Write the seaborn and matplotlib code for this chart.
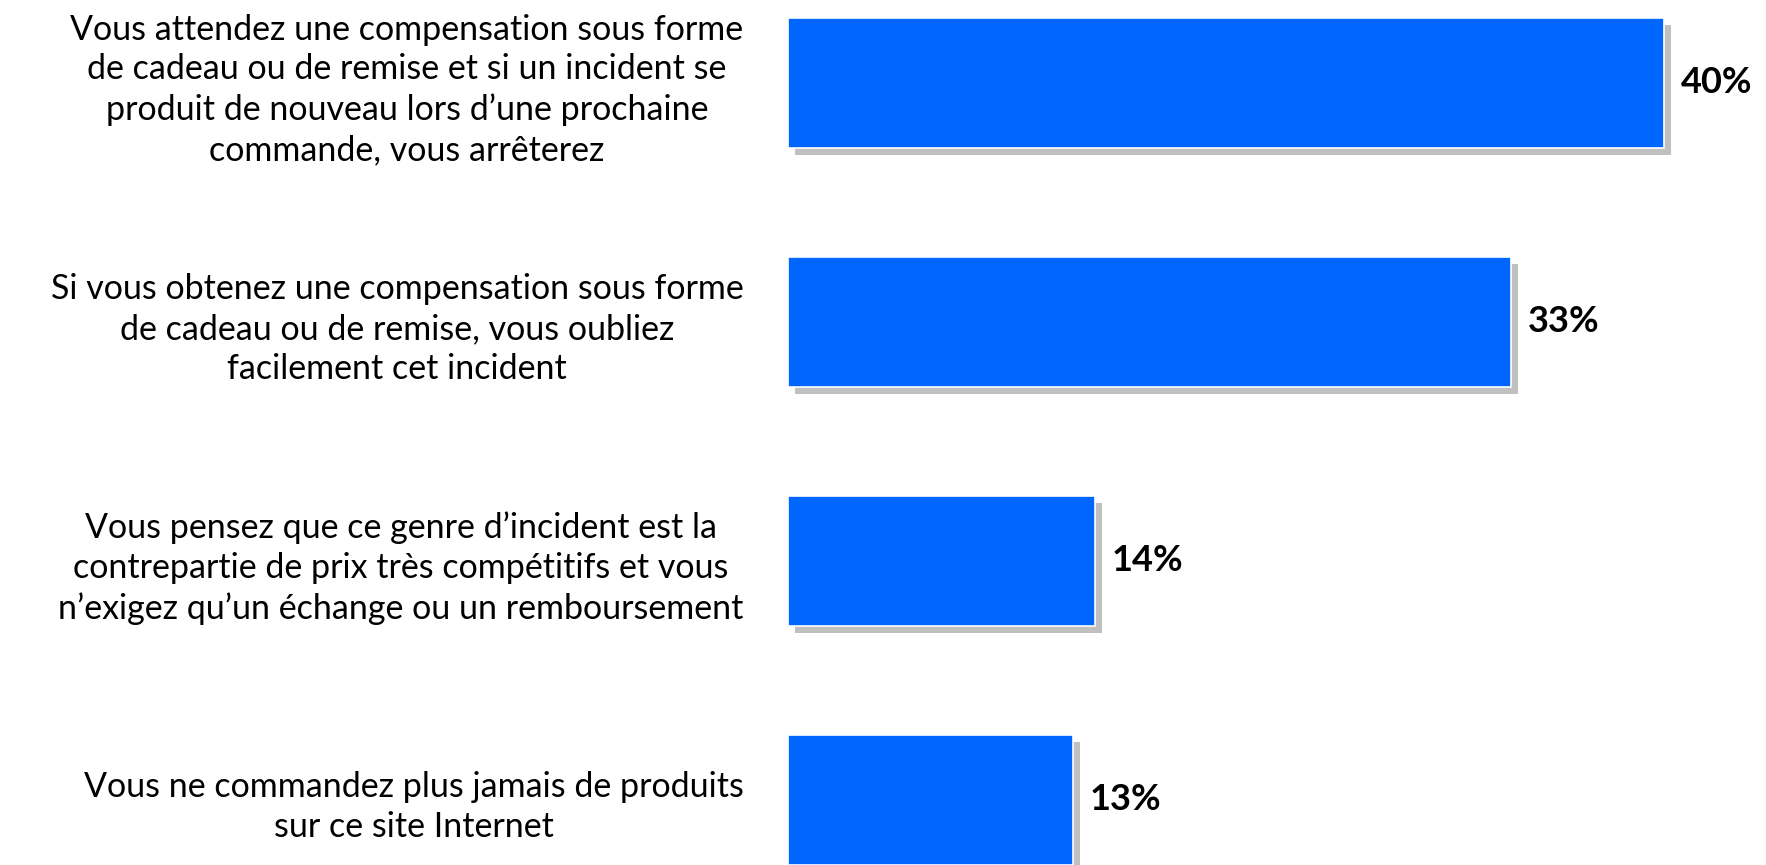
import matplotlib
matplotlib.use("Agg")
import matplotlib.pyplot as plt
import matplotlib.patheffects as pe
import seaborn as sns
import pandas as pd

# Data
categories = [
    "Vous attendez une compensation sous forme\nde cadeau ou de remise et si un incident se\nproduit de nouveau lors d\u2019une prochaine\ncommande, vous arr\u00eaterez",
    "Si vous obtenez une compensation sous forme\nde cadeau ou de remise, vous oubliez\nfacilement cet incident",
    "Vous pensez que ce genre d\u2019incident est la\ncontrepartie de prix tr\u00e8s comp\u00e9titifs et vous\nn\u2019exigez qu\u2019un \u00e9change ou un remboursement",
    "Vous ne commandez plus jamais de produits\nsur ce site Internet",
]
values = [40, 33, 14, 13]

BAR_COLOR = "#0066FF"
SHADOW = "#C0C0C0"

sns.set_theme(style="white")
plt.rcParams["font.family"] = ["Lato", "DejaVu Sans"]

df = pd.DataFrame({"label": categories, "value": values})

fig = plt.figure(figsize=(17.66, 8.65), dpi=100)
ax = fig.add_axes([788 / 1766, 0, 1 - 788 / 1766, 1])

sns.barplot(data=df, x="value", y="label", orient="h", color=BAR_COLOR,
            saturation=1, width=0.544, edgecolor="white", linewidth=1.2, ax=ax)

# drop shadow on each bar
for bar in ax.patches:
    bar.set_path_effects([
        pe.SimplePatchShadow(offset=(5, -5), shadow_rgbFace=SHADOW, alpha=1),
        pe.Normal(),
    ])

# percentage labels
ax.bar_label(ax.containers[0], labels=[f"{v}%" for v in values],
             padding=12, fontsize=26, fontweight="bold", color="black")

ax.set_xlim(0, (1766 - 788) / 21.9)
ax.set_ylim(3.272, -0.347)
ax.set_xlabel("")
ax.set_ylabel("")
ax.set_xticks([])
ax.tick_params(axis="y", length=0, pad=32, labelsize=24.5, labelcolor="black")
for lbl in ax.get_yticklabels():
    lbl.set_multialignment("center")
    lbl.set_linespacing(1.3)
sns.despine(ax=ax, left=True, bottom=True, top=True, right=True)

fig.savefig("out.png", dpi=100, facecolor="white")
